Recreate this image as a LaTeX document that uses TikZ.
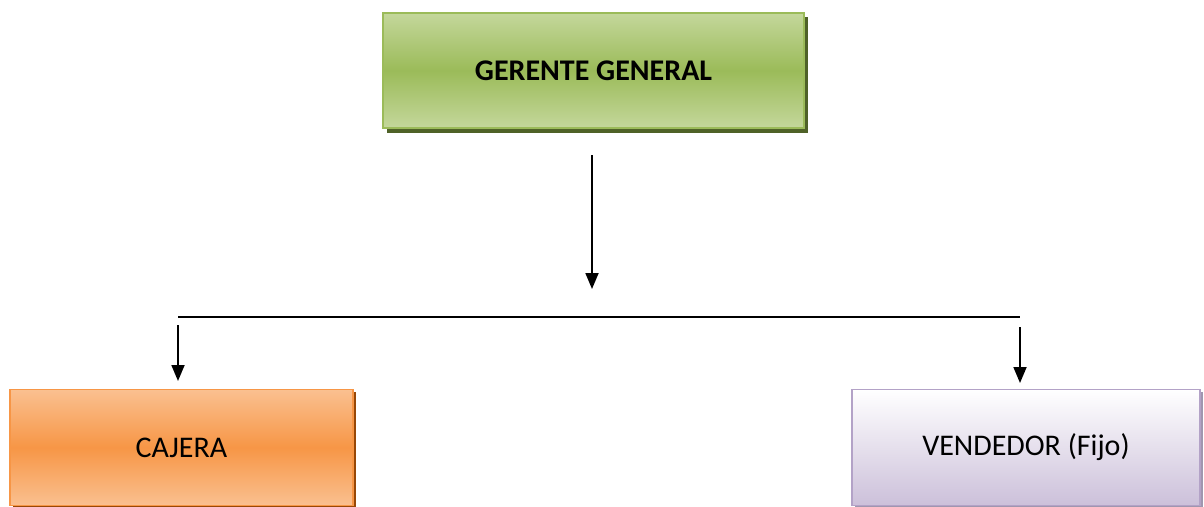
\documentclass[tikz,border=0pt]{standalone}
\usepackage{fontspec}
\setmainfont{Carlito}
\usetikzlibrary{arrows.meta,shadows}
\begin{document}
\begin{tikzpicture}[x=1pt,y=-1pt,
  box/.style={draw, line width=1.5pt, inner sep=0pt, anchor=center},
  conn/.style={line width=1.8pt, -{Triangle[length=16pt,width=13pt]}},
  plain/.style={line width=1.8pt}]
\useasboundingbox (0,0) rectangle (1204,506);
% green box
\fill[color={rgb,255:red,79;green,98;blue,40}] (387,17) rectangle (808,133);
\node[box, draw={rgb,255:red,155;green,187;blue,89},
  top color={rgb,255:red,196;green,215;blue,155},
  bottom color={rgb,255:red,196;green,215;blue,155},
  middle color={rgb,255:red,155;green,187;blue,89},
  minimum width=421pt, minimum height=115pt,
  font=\fontsize{30}{36}\selectfont\bfseries] (gg) at (593.5,70.5) {GERENTE GENERAL};
% orange box
\fill[color={rgb,255:red,152;green,72;blue,7}] (13,392) rectangle (356,509);
\node[box, draw={rgb,255:red,247;green,150;blue,70},
  top color={rgb,255:red,250;green,192;blue,144},
  bottom color={rgb,255:red,250;green,192;blue,144},
  middle color={rgb,255:red,247;green,150;blue,70},
  minimum width=343pt, minimum height=116pt,
  font=\fontsize{30}{36}\selectfont] (caj) at (181.5,447.5) {CAJERA};
% purple box
\fill[color={rgb,255:red,160;green,150;blue,175}] (855,392) rectangle (1203,509);
\node[box, draw={rgb,255:red,179;green,162;blue,199},
  top color=white,
  bottom color={rgb,255:red,204;green,192;blue,218},
  minimum width=348pt, minimum height=116pt,
  font=\fontsize{30}{36}\selectfont] (ven) at (1026,447.5) {VENDEDOR (Fijo)};
% connectors
\coordinate (s0) at (592,155);
\coordinate (s1) at (592,289);
\coordinate (hl) at (178,317);
\coordinate (hr) at (1020,317);
\coordinate (cl) at (178,381);
\coordinate (cr) at (1020,383);
\draw[conn] (s0) -- (s1);
\draw[plain] (hl) -- (hr);
\draw[conn] ([yshift=-8pt]hl) -- (cl);
\draw[conn] ([yshift=-10pt]hr) -- (cr);
\end{tikzpicture}
\end{document}
